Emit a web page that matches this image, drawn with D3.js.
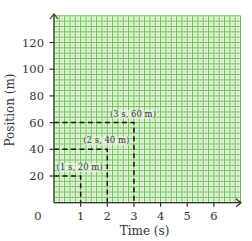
<!DOCTYPE html>
<html><head><meta charset="utf-8">
<script src="https://cdn.jsdelivr.net/npm/d3@7"></script>
<style>html,body{margin:0;padding:0;background:#fff;}svg{display:block;}</style>
</head><body>
<script>
const times = [1, 2, 3];
const positions = [20, 40, 60];
const pointLabels = ["(1 s, 20 m)", "(2 s, 40 m)", "(3 s, 60 m)"];
const xTicks = [1, 2, 3, 4, 5, 6];
const yTicks = [20, 40, 60, 80, 100, 120];
const xTitle = "Time (s)";
const yTitle = "Position (m)";

const W = 252, H = 241;
const svg = d3.select("body").append("svg").attr("width", W).attr("height", H);
const x = d3.scaleLinear().domain([0, 7]).range([54, 240.5]);
const y = d3.scaleLinear().domain([0, 140]).range([202.7, 15.8]);
const font = "DejaVu Serif";

// grid
const g = svg.append("g");
const minorX = d3.range(0, 71).map(i => i / 10);
const minorY = d3.range(0, 141, 2);
g.selectAll(".mx").data(minorX.filter((d, i) => i % 2 === 1)).join("line")
  .attr("x1", d => x(d)).attr("x2", d => x(d)).attr("y1", y(0)).attr("y2", y(140))
  .attr("stroke", "#d3ebc7").attr("stroke-width", 1.6);
g.selectAll(".my").data(minorY.filter((d, i) => i % 2 === 1)).join("line")
  .attr("y1", d => y(d)).attr("y2", d => y(d)).attr("x1", x(0)).attr("x2", x(7))
  .attr("stroke", "#d3ebc7").attr("stroke-width", 1.6);
g.selectAll(".Mx").data(minorX.filter((d, i) => i % 2 === 0)).join("line")
  .attr("x1", d => x(d)).attr("x2", d => x(d)).attr("y1", y(0)).attr("y2", y(140))
  .attr("stroke", "#66c04a").attr("stroke-width", 1);
g.selectAll(".My").data(minorY.filter((d, i) => i % 2 === 0)).join("line")
  .attr("y1", d => y(d)).attr("y2", d => y(d)).attr("x1", x(0)).attr("x2", x(7))
  .attr("stroke", "#66c04a").attr("stroke-width", 1);

// dashed guides
const pts = times.map((t, i) => ({t, p: positions[i], label: pointLabels[i]}));
const dash = svg.append("g").attr("fill", "none").attr("stroke", "#111")
  .attr("stroke-width", 1.5).attr("stroke-dasharray", "5,3.5");
pts.forEach(d => {
  dash.append("path").attr("d", `M${x(0)},${y(d.p)}H${x(d.t)}V${y(0)}`);
});

// point labels
pts.forEach(d => {
  const t = svg.append("text").attr("x", x(d.t) - 1).attr("y", y(d.p) - 6)
    .attr("text-anchor", "middle").attr("font-family", font).attr("font-size", 8.5)
    .attr("fill", "#333").text(d.label);
  const bb = t.node().getBBox();
  svg.insert("rect", () => t.node()).attr("x", bb.x).attr("y", bb.y + 1)
    .attr("width", bb.width).attr("height", bb.height - 1).attr("fill", "#fff").attr("opacity", 0.5);
});

// axes
const ax = svg.append("g").attr("stroke", "#333").attr("stroke-width", 1.2).attr("fill", "none");
ax.append("line").attr("x1", x(0)).attr("x2", x(0)).attr("y1", y(0)).attr("y2", 14);
ax.append("path").attr("d", `M${x(0) - 4},19L${x(0)},14L${x(0) + 4},19`);
ax.append("line").attr("x1", x(0)).attr("x2", 241).attr("y1", y(0)).attr("y2", y(0));
ax.append("path").attr("d", `M236,${y(0) - 4}L241,${y(0)}L236,${y(0) + 4}`);

ax.selectAll(".xt").data(xTicks).join("line")
  .attr("x1", d => x(d)).attr("x2", d => x(d)).attr("y1", y(0)).attr("y2", y(0) + 4);
ax.selectAll(".yt").data(yTicks).join("line")
  .attr("y1", d => y(d)).attr("y2", d => y(d)).attr("x1", x(0) - 4.5).attr("x2", x(0));

const tl = svg.append("g").attr("font-family", font).attr("font-size", 11.5).attr("fill", "#333");
tl.selectAll(".xl").data(xTicks).join("text")
  .attr("x", d => x(d)).attr("y", 220).attr("text-anchor", "middle").text(d => d);
tl.append("text").attr("x", 38).attr("y", 220).attr("text-anchor", "middle").text("0");
tl.selectAll(".yl").data(yTicks).join("text")
  .attr("x", 44).attr("y", d => y(d) + 4).attr("text-anchor", "end").text(d => d);

svg.append("text").attr("x", 144.5).attr("y", 235).attr("text-anchor", "middle")
  .attr("font-family", font).attr("font-size", 12).attr("fill", "#333").text(xTitle);
svg.append("text").attr("transform", "translate(14,110) rotate(-90)").attr("text-anchor", "middle")
  .attr("font-family", font).attr("font-size", 12).attr("fill", "#333").text(yTitle);
</script>
</body></html>
